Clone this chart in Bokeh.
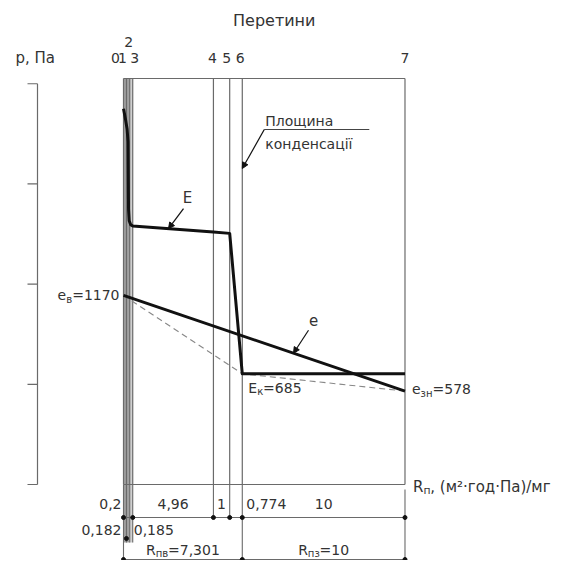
import numpy as np
from bokeh.plotting import figure
from bokeh.models import Label, Arrow, NormalHead, Range1d
from bokeh.embed import file_html
from bokeh.resources import INLINE

# ---------------- data ----------------
section_names = ["0", "1", "2", "3", "4", "5", "6", "7"]
layer_R = [0.182, 0.2, 0.185, 4.96, 1.0, 0.774, 10.0]
layer_labels = ["0,182", "0,2", "0,185", "4,96", "1", "0,774", "10"]
R_in_label = "7,301"
R_out_label = "10"

# saturated vapour pressure E
E_R = [0.0, 0.12, 0.22, 0.28, 0.31, 0.35, 0.45, 0.567, 5.527, 6.527, 7.301, 17.301]
E_p = [2325, 2262, 2200, 2120, 1700, 1632, 1606, 1600, 1563, 1554, 685, 685]

e_in = 1170      # e_в
e_out = 578      # e_зн
E_k = 685        # E_к in plane of condensation
cond_section = 6

p_ticks = [0, 620, 1240, 1860, 2480]

# ---------------- geometry ----------------
sections = np.concatenate([[0.0], np.cumsum(layer_R)])
R_tot = sections[-1]
R_c = sections[cond_section]

W, H = 561, 560
sx = 16.27     # px per R unit
sy = 0.1616    # px per Pa
x0 = -123 / sx
y0 = -(H - 484) / sy

def px(dx):
    return dx / sx

def py(dy):
    return dy / sy

p = figure(width=W, height=H, x_range=Range1d(x0, x0 + W / sx),
           y_range=Range1d(y0, y0 + H / sy), output_backend="svg",
           toolbar_location=None, min_border=0, x_axis_type=None,
           y_axis_type=None, outline_line_color=None)
p.grid.visible = False

FONT = "DejaVu Sans"
TXT = "#333333"
FRAME = "#6a6a6a"

p_top = py(484 - 78)
dim1 = -py(33)
dim2 = -py(75)
strip_bot = -py(58)

# gray strip of thin layers
p.quad(left=[sections[0], sections[2]], right=[sections[2], sections[3]],
       bottom=[strip_bot, strip_bot], top=[p_top, p_top],
       fill_color=["#a0a0a0", "#d0d0d0"], line_color=None)

# section lines inside frame
p.segment(x0=sections, y0=[0] * len(sections), x1=sections, y1=[p_top] * len(sections),
          line_color=FRAME, line_width=1.2)
p.segment(x0=[sections[0], sections[0]], y0=[p_top, 0], x1=[R_tot, R_tot], y1=[p_top, 0],
          line_color=FRAME, line_width=1.2)

# extension lines below frame
ext_x = list(sections)
ext_y1 = [dim2, strip_bot, strip_bot, strip_bot, dim1, dim1, dim2, dim2]
ext_y0 = [0, 0, 0, 0, 0, 0, 0, -py(5)]
p.segment(x0=ext_x, y0=ext_y0, x1=ext_x, y1=ext_y1, line_color=FRAME, line_width=1.1)

# dimension lines
p.segment(x0=[sections[0], sections[0]], y0=[dim1, dim2], x1=[R_tot, R_tot], y1=[dim1, dim2],
          line_color=FRAME, line_width=1.1)
p.scatter(x=[sections[0], sections[3], sections[4], sections[5], sections[6], sections[7]],
          y=[dim1] * 6, size=4, color="#111111")
p.scatter(x=[sections[0], sections[6], sections[7]], y=[dim2] * 3, size=4, color="#111111")
p.scatter(x=[sections[1]], y=[strip_bot + py(4)], size=4, color="#111111")

# left pressure scale
R_ax = px(37 - 123)
p.segment(x0=[R_ax], y0=[p_ticks[0]], x1=[R_ax], y1=[p_ticks[-1]], line_color=FRAME, line_width=1.2)
p.segment(x0=[R_ax - px(10)] * len(p_ticks), y0=p_ticks, x1=[R_ax] * len(p_ticks), y1=p_ticks,
          line_color=FRAME, line_width=1.2)

# dashed line e_в -> E_к -> e_зн
p.line([sections[0], R_c, R_tot], [e_in, E_k, e_out], line_color="#888888",
       line_width=1.1, line_dash="6 4")
# E curve
p.line(E_R, E_p, line_color="#111111", line_width=3, line_join="round")
# e line
p.line([sections[0], R_tot], [e_in, e_out], line_color="#111111", line_width=3)

# ---------------- texts ----------------
CW = {**{d: 0.636 for d in "0123456789"}, ",": 0.318, ".": 0.318, "=": 0.838, " ": 0.318,
      "e": 0.615, "E": 0.632, "R": 0.695, "(": 0.39, ")": 0.39, "/": 0.337, "·": 0.318,
      "²": 0.401, "п": 0.634, "в": 0.59, "к": 0.59, "з": 0.53, "н": 0.65, "м": 0.72,
      "г": 0.5, "о": 0.612, "д": 0.66, "П": 0.752, "а": 0.613}


def tw(s, size):
    return sum(CW.get(c, 0.6) for c in s) * size


def txt(x, y, s, size=13, align="left", xo=0, yo=0):
    p.add_layout(Label(x=x, y=y, text=s, x_offset=xo, y_offset=yo, text_font=FONT,
                       text_font_size=f"{size}px", text_color=TXT, text_align=align,
                       text_baseline="middle"))


def rich(x, y, parts, size=14, align="left", xo=0, yo=0):
    sizes = [size * 0.72 if sub else size for _, sub in parts]
    widths = [tw(t, s) for (t, _), s in zip(parts, sizes)]
    total = sum(widths)
    cur = xo - (total if align == "right" else total / 2 if align == "center" else 0)
    for (t, sub), s, w in zip(parts, sizes, widths):
        txt(x, y, t, size=s, align="left", xo=cur, yo=yo - (4 if sub else 0))
        cur += w


# header
txt(R_tot / 2, py(484 - 20), "Перетини", size=16, align="center", xo=10)
txt(R_ax, py(484 - 57), "p, Па", size=15, align="left", xo=-22)
sec_xo = [-8, -4, -1, 2, -1, -3, -2, 0]
for i, name in enumerate(section_names):
    yy = py(484 - 41) if name == "2" else py(484 - 57)
    txt(sections[i], yy, name, size=14, align="center", xo=sec_xo[i])

# value labels
rich(sections[0], e_in, [("e", False), ("в", True), ("=1170", False)], align="right", xo=-4)
rich(R_c, E_k, [("E", False), ("к", True), ("=685", False)], align="left", xo=6, yo=-14)
rich(R_tot, e_out, [("e", False), ("зн", True), ("=578", False)], align="left", xo=7, yo=2)
rich(R_tot, 0, [("R", False), ("п", True), (", (м²·год·Па)/мг", False)], size=15,
     align="left", xo=8, yo=-2)

# dimension texts
row1 = -py(19)
row2 = -py(45)
row3 = -py(65)
mids = (sections[:-1] + sections[1:]) / 2
txt(sections[0], row1, layer_labels[1], size=14, align="right", xo=-2)
txt(mids[3], row1, layer_labels[3], size=14, align="center")
txt(mids[4], row1, layer_labels[4], size=14, align="center")
txt(sections[6], row1, layer_labels[5], size=14, align="left", xo=4)
txt(mids[6], row1, layer_labels[6], size=14, align="center")
txt(sections[0], row2, layer_labels[0], size=14, align="right", xo=-2)
txt(sections[3], row2, layer_labels[2], size=14, align="left", xo=1)
rich(R_c / 2, row3, [("R", False), ("пв", True), ("=" + R_in_label, False)], align="center")
rich((R_c + R_tot) / 2, row3, [("R", False), ("пз", True), ("=" + R_out_label, False)], align="center")

# leaders
head = dict(size=6, fill_color="#111111", line_color="#111111")
R_tipE = px(168 - 123)
pE = float(np.interp(R_tipE, E_R, E_p))
p.add_layout(Arrow(end=NormalHead(**head), x_start=R_tipE + px(15), y_start=pE + py(20),
                   x_end=R_tipE, y_end=pE, line_width=1.2, line_color="#111111"))
txt(R_tipE + px(19), pE + py(31), "E", size=15, align="center")

R_tipe = px(293 - 123)
pe = e_in + (e_out - e_in) * R_tipe / R_tot
p.add_layout(Arrow(end=NormalHead(**head), x_start=R_tipe + px(15), y_start=pe + py(23),
                   x_end=R_tipe, y_end=pe, line_width=1.2, line_color="#111111"))
txt(R_tipe + px(20), pe + py(33), "e", size=15, align="center")

p_tipc = py(484 - 168)
tail_x = R_c + px(22)
tail_y = p_tipc + py(39)
p.add_layout(Arrow(end=NormalHead(**head), x_start=tail_x, y_start=tail_y,
                   x_end=R_c, y_end=p_tipc, line_width=1.2, line_color="#111111"))
p.segment(x0=[tail_x], y0=[tail_y], x1=[tail_x + px(105)], y1=[tail_y], line_color="#444444", line_width=1.2)
txt(tail_x, tail_y + py(9), "Площина", size=14, align="left", xo=1)
txt(tail_x, tail_y - py(14), "конденсації", size=14, align="left", xo=1)

open("out.html", "w").write(file_html(p, INLINE))
